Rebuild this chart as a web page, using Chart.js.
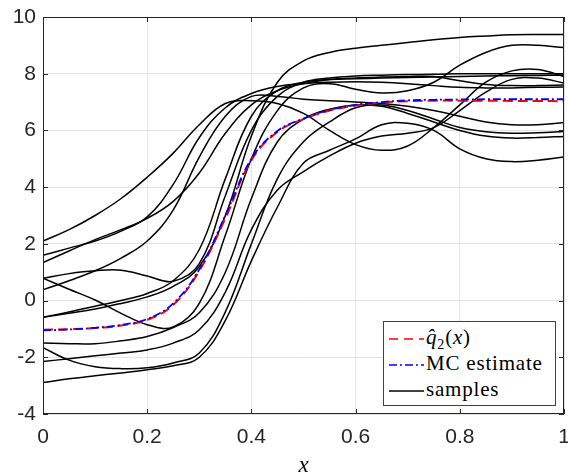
<!DOCTYPE html>
<html>
<head>
<meta charset="utf-8">
<script src="https://cdn.jsdelivr.net/npm/chart.js@4/dist/chart.umd.min.js"></script>
<style>
  html, body { margin: 0; padding: 0; background: #fff; }
  #wrap { position: relative; width: 568px; height: 474px; }
  #legend {
    position: absolute; left: 383px; top: 321px; width: 171px; height: 83px;
    border: 1px solid #404040; background: #fff;
    font-family: "Liberation Serif", "DejaVu Serif", serif; font-size: 21px; color: #000;
    letter-spacing: 0.8px;
  }
  #legend .row { position: absolute; left: 4px; height: 26px; line-height: 26px; white-space: nowrap; }
  #legend svg { vertical-align: middle; margin-right: 2px; }
</style>
</head>
<body>
<div id="wrap">
  <canvas id="c" width="568" height="474"></canvas>
  <div id="legend">
    <div class="row" style="top:2px"><svg width="36" height="10"><line x1="1" y1="5" x2="36" y2="5" stroke="#ff0000" stroke-width="1.5" stroke-dasharray="9,6"/></svg><i>q&#770;</i><sub style="font-size:14px">2</sub>(<i>x</i>)</div>
    <div class="row" style="top:28px"><svg width="36" height="10"><line x1="1" y1="5" x2="36" y2="5" stroke="#0000ff" stroke-width="1.5" stroke-dasharray="8,3,2,3"/></svg>MC estimate</div>
    <div class="row" style="top:54px"><svg width="36" height="10"><line x1="1" y1="5" x2="36" y2="5" stroke="#000" stroke-width="1.5"/></svg>samples</div>
  </div>
</div>
<script>
// x grid the curves were read at
const xs = [0, 0.05, 0.1, 0.15, 0.2, 0.25, 0.3, 0.35, 0.4, 0.45, 0.5,
            0.55, 0.6, 0.65, 0.7, 0.75, 0.8, 0.85, 0.9, 0.95, 1];

const qHat   = [-1.03, -1.01, -0.97, -0.88, -0.68, -0.15, 1.05, 2.9, 4.95, 5.95, 6.4,
                6.7, 6.88, 6.98, 7.03, 7.05, 7.05, 7.05, 7.04, 7.04, 7.03];
const mcEst  = [-1.05, -1.02, -0.96, -0.86, -0.65, -0.1, 1.1, 3.0, 5.0, 5.98, 6.42,
                6.72, 6.9, 7.0, 7.06, 7.08, 7.09, 7.1, 7.1, 7.1, 7.1];

// sample paths
const s1  = [2.1, 2.5, 3.0, 3.6, 4.35, 5.2, 6.2, 6.95, 7.05, 6.95, 6.6, 6.0, 5.5, 5.3, 5.45, 6.1, 6.9, 7.7, 8.1, 8.15, 7.9];
const s2  = [1.6, 1.85, 2.1, 2.45, 2.95, 4.1, 5.75, 6.8, 7.3, 7.55, 7.65, 7.7, 7.72, 7.7, 7.65, 7.58, 7.52, 7.5, 7.5, 7.52, 7.53];
const s3  = [1.34, 1.75, 2.15, 2.5, 2.9, 3.5, 4.5, 5.9, 6.9, 7.4, 7.65, 7.8, 7.85, 7.88, 7.9, 7.9, 7.75, 7.62, 7.58, 7.58, 7.6];
const s4  = [0.79, 0.95, 1.05, 1.07, 0.87, 0.68, 1.3, 3.7, 6.0, 7.2, 7.7, 7.85, 7.92, 7.95, 7.97, 7.98, 8.0, 8.0, 8.0, 8.0, 8.0];
const s5  = [0.79, 0.4, 0.02, -0.45, -0.85, -0.93, -0.1, 2.3, 5.0, 6.7, 7.5, 7.65, 7.45, 7.32, 7.4, 7.7, 8.3, 8.75, 9.0, 9.0, 8.92];
const s6  = [0.38, 0.7, 1.05, 1.5, 2.1, 3.2, 5.06, 6.5, 7.2, 7.2, 7.1, 7.05, 7.0, 6.95, 6.85, 6.7, 6.5, 6.3, 6.2, 6.2, 6.28];
const s7  = [-0.59, -0.45, -0.3, -0.1, 0.13, 0.5, 1.2, 3.0, 5.8, 7.7, 8.45, 8.75, 8.9, 9.0, 9.1, 9.2, 9.28, 9.33, 9.37, 9.38, 9.38];
const s8  = [-0.59, -0.4, -0.2, 0.0, 0.25, 0.7, 1.8, 4.3, 6.5, 7.4, 7.7, 7.8, 7.82, 7.85, 7.87, 7.88, 7.9, 7.92, 7.93, 7.94, 7.95];
const s9  = [-1.5, -1.52, -1.52, -1.42, -1.27, -0.95, -0.43, 1.0, 3.6, 5.6, 6.4, 6.75, 6.9, 6.85, 6.6, 6.3, 6.0, 5.8, 5.73, 5.75, 5.79];
const s10 = [-1.66, -2.1, -2.33, -2.4, -2.37, -2.2, -1.85, -0.4, 2.0, 4.3, 5.6, 6.3, 6.8, 6.9, 6.7, 6.4, 6.1, 5.95, 5.9, 5.92, 5.96];
const s11 = [-2.15, -2.05, -1.95, -1.85, -1.74, -1.5, -1.03, 0.3, 2.5, 3.9, 4.55, 5.1, 5.55, 5.8, 5.9, 6.1, 6.7, 7.35, 7.8, 7.85, 7.67];
const s12 = [-2.89, -2.76, -2.65, -2.55, -2.44, -2.3, -2.0, -0.7, 1.4, 3.3, 4.85, 5.3, 5.7, 6.2, 6.25, 6.0, 5.35, 5.0, 4.9, 4.95, 5.06];
const samples = [s1, s2, s3, s4, s5, s6, s7, s8, s9, s10, s11, s12];

const xTicks = [0, 0.2, 0.4, 0.6, 0.8, 1];
const yTicks = [-4, -2, 0, 2, 4, 6, 8, 10];

const pts = arr => arr.map((v, i) => ({x: xs[i], y: v}));
const axisColor = '#262626';

const datasets = [
  {data: pts(mcEst), borderColor: '#0000ff', borderWidth: 1.8, borderDash: [8, 3, 2, 3]},
  {data: pts(qHat), borderColor: '#ff0000', borderWidth: 2, borderDash: [10, 5]}
];
samples.forEach(s => datasets.push({data: pts(s), borderColor: '#000', borderWidth: 1.5}));

// box around plot + inward ticks, like the matlab axes
const framePlugin = {
  id: 'frame',
  afterDatasetsDraw(chart) {
    const {ctx, chartArea: a, scales} = chart;
    ctx.save();
    ctx.strokeStyle = axisColor;
    ctx.lineWidth = 1;
    ctx.strokeRect(a.left + 0.5, a.top + 0.5, a.right - a.left - 1, a.bottom - a.top - 1);
    ctx.beginPath();
    xTicks.forEach(t => {
      const px = Math.round(scales.x.getPixelForValue(t)) + 0.5;
      ctx.moveTo(px, a.bottom); ctx.lineTo(px, a.bottom - 5);
      ctx.moveTo(px, a.top); ctx.lineTo(px, a.top + 5);
    });
    yTicks.forEach(t => {
      const py = Math.round(scales.y.getPixelForValue(t)) + 0.5;
      ctx.moveTo(a.left, py); ctx.lineTo(a.left + 5, py);
      ctx.moveTo(a.right, py); ctx.lineTo(a.right - 5, py);
    });
    ctx.stroke();
    ctx.restore();
  }
};

new Chart(document.getElementById('c'), {
  type: 'line',
  data: {datasets},
  options: {
    responsive: false,
    animation: false,
    events: [],
    layout: {padding: {top: 17, right: 4, left: 0, bottom: 0}},
    elements: {
      point: {radius: 0},
      line: {tension: 0.4, fill: false}
    },
    plugins: {legend: {display: false}, tooltip: {enabled: false}},
    scales: {
      x: {
        type: 'linear', min: 0, max: 1,
        afterBuildTicks: s => { s.ticks = xTicks.map(v => ({value: v})); },
        afterFit: s => { s.height = 60; s.paddingRight = 0; s.paddingLeft = 0; },
        ticks: {
          callback: v => String(v),
          font: {family: 'Liberation Sans, Arial, sans-serif', size: 21},
          color: axisColor, padding: 11, maxRotation: 0
        },
        grid: {color: '#e3e3e3', drawTicks: false},
        border: {display: false},
        title: {
          display: true, text: 'x', color: '#000', padding: {top: 0, bottom: -6},
          font: {family: 'Liberation Serif, DejaVu Serif, serif', size: 23, style: 'italic'}
        }
      },
      y: {
        min: -4, max: 10,
        afterBuildTicks: s => { s.ticks = yTicks.map(v => ({value: v})); },
        afterFit: s => { s.width = 43; s.paddingTop = 0; s.paddingBottom = 0; },
        ticks: {
          font: {family: 'Liberation Sans, Arial, sans-serif', size: 21},
          color: axisColor, padding: 7
        },
        grid: {color: '#e3e3e3', drawTicks: false},
        border: {display: false}
      }
    }
  },
  plugins: [framePlugin]
});
</script>
</body>
</html>
